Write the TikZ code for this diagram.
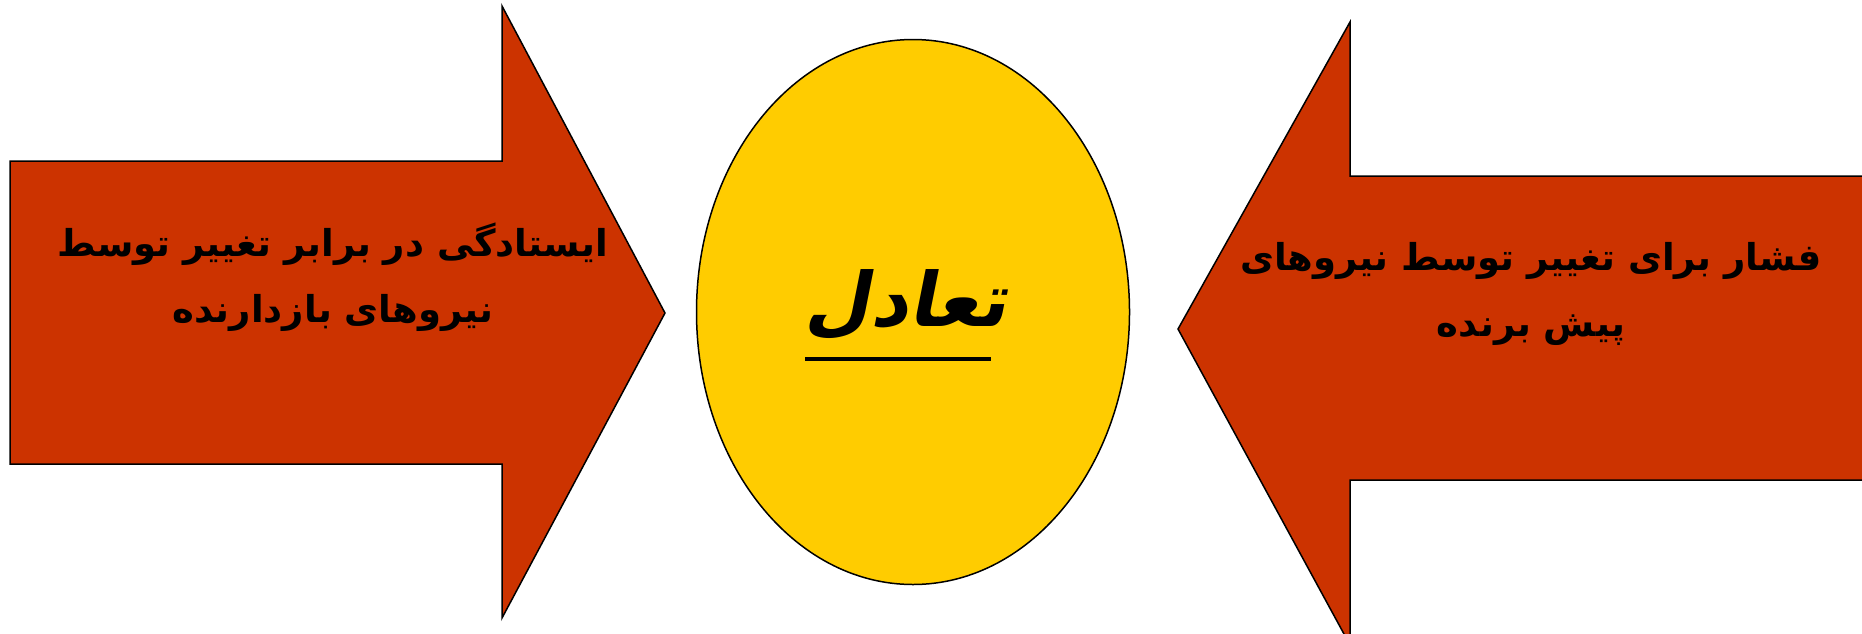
\documentclass[tikz,border=0pt]{standalone}
\usepackage{fontspec}
\usetikzlibrary{shapes.geometric}
\TeXXeTstate=1
\newfontfamily\arabicfont[Script=Arabic]{DejaVu Sans}
\newfontfamily\arabicslfont[Script=Arabic,FakeSlant=0.2]{DejaVu Sans}
\definecolor{arrowred}{HTML}{CC3300}
\definecolor{eqyellow}{HTML}{FFCC00}

\begin{document}
\begin{tikzpicture}[x=1pt,y=-1pt,
    arrowshape/.style={draw=black,line width=1.5pt,fill=arrowred,line join=miter},
    arrowtext/.style={align=center,inner sep=0pt,font=\arabicfont\bfseries\fontsize{37}{66}\selectfont}]

    \useasboundingbox (0,0) rectangle (1862,633);

    % Panah kiri (mengarah ke kanan)
    \draw[arrowshape] (10,161)--(502,161)--(502,6)--(665,313)--(502,618)--(502,464)--(10,464)--cycle;

    % Panah kanan (mengarah ke kiri), terpotong di tepi kanan
    \draw[arrowshape] (1875,176)--(1350,176)--(1350,22)--(1178,329)--(1350,645)--(1350,480)--(1875,480);

    % Elips kesetimbangan di tengah
    \node[ellipse,draw=black,line width=1.5pt,fill=eqyellow,minimum width=433pt,minimum height=545pt,inner sep=0pt] (balance) at (913,312) {};

    % Teks pada kedua panah
    \node[arrowtext] (resisttext) at (333,277) {\beginR ایستادگی در برابر تغییر توسط\endR\\ \beginR نیروهای بازدارنده\endR};
    \node[arrowtext] (pushtext) at (1531,294) {\beginR فشار برای تغییر توسط نیروهای\endR\\ \beginR پیش برنده\endR};

    % Teks tengah dengan garis bawah
    \node[inner sep=0pt,font=\arabicslfont\bfseries\fontsize{75}{78}\selectfont] (balancetext) at (906,305) {\beginR تعادل\endR};
    \draw[line width=4.5pt] (805,359)--(991,359);

\end{tikzpicture}
\end{document}
